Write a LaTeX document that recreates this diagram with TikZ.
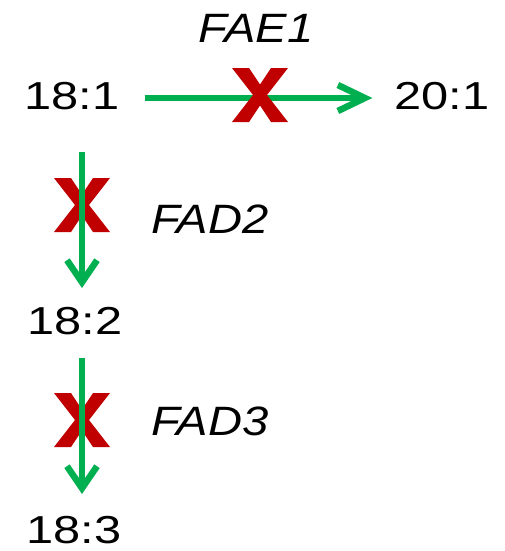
\documentclass[tikz,border=0pt]{standalone}
\usepackage{fontspec}
\usetikzlibrary{arrows.meta}
\newfontfamily\numfont[FakeStretch=1.25]{Liberation Sans}
\newfontfamily\genefont[FakeStretch=1.15]{Liberation Sans}
\definecolor{flowgreen}{HTML}{00B050}
\definecolor{blockred}{HTML}{C00000}
\tikzset{
  x=1pt, y=1pt,
  lipid/.style={inner sep=0pt, font=\numfont\fontsize{39}{39}\selectfont},
  gene/.style={inner sep=0pt, font=\genefont\itshape\fontsize{41}{41}\selectfont},
  flowh/.style={draw=flowgreen, line width=6.5pt,
    -{Straight Barb[length=27pt, width=26pt]}},
  flowv/.style={draw=flowgreen, line width=6.5pt,
    -{Straight Barb[length=22pt, width=30pt]}},
  blockx/.pic={
    \fill[blockred] (-28,27) -- (-11,27) -- (0,10.5) -- (11,27) -- (28,27)
      -- (7,0) -- (28,-27) -- (11,-27) -- (0,-10.5) -- (-11,-27)
      -- (-28,-27) -- (-7,0) -- cycle;
  }
}
\begin{document}
\begin{tikzpicture}
\useasboundingbox (0,0) rectangle (504,-551);

% fatty acid species
\node[lipid] (c181) at (72,-96) {18:1};
\node[lipid] (c201) at (442,-96.5) {20:1};
\node[lipid] (c182) at (75,-321) {18:2};
\node[lipid] (c183) at (74,-530) {18:3};

% enzyme labels
\node[gene] (fae1) at (256,-28) {FAE1};
\node[gene] (fad2) at (210,-219) {FAD2};
\node[gene] (fad3) at (210,-421) {FAD3};

% blocks under the desaturation steps
\pic at (82,-205) {blockx};
\pic at (82,-420) {blockx};

% conversion steps
\draw[flowh, shorten <=25pt, shorten >=22pt]
  ([yshift=-2pt]c181.east) -- ([yshift=-1.5pt]c201.west);
\draw[flowv, shorten <=42pt, shorten >=19pt]
  ([xshift=10pt]c181.south) -- ([xshift=7pt]c182.north);
\draw[flowv, shorten <=23pt, shorten >=22pt]
  ([xshift=7pt]c182.south) -- ([xshift=8pt]c183.north);

% block on the elongation step
\pic at (260,-95) {blockx};
\end{tikzpicture}
\end{document}
